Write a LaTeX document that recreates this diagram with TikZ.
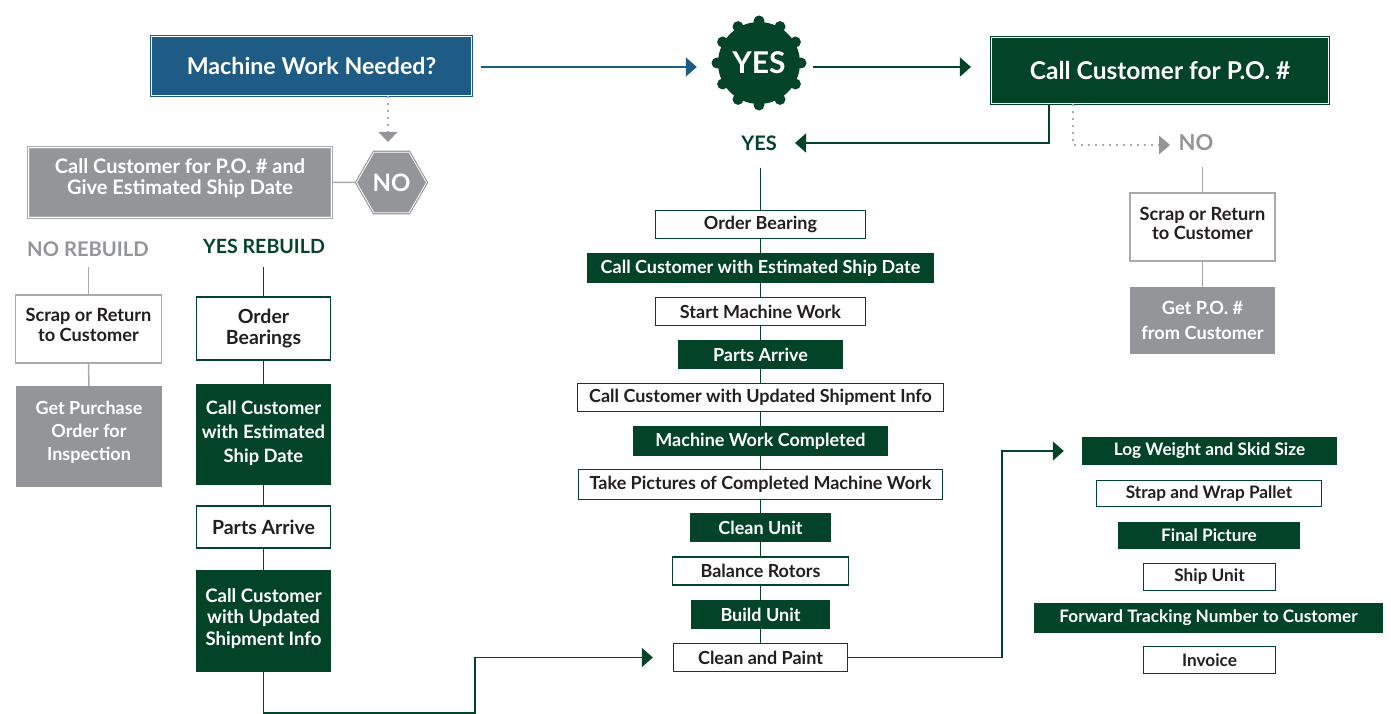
\documentclass[tikz,border=0pt]{standalone}
\usepackage{fontspec}
\setmainfont{Lato}
\usetikzlibrary{shapes.geometric,arrows.meta,calc}
\definecolor{dg}{RGB}{3,68,40}
\definecolor{bl}{RGB}{30,92,133}
\definecolor{gr}{RGB}{147,149,152}
\definecolor{lg}{RGB}{168,170,173}
\definecolor{tx}{RGB}{35,31,32}
\newcommand\fz[2]{\fontsize{#1}{#2}\selectfont\bfseries}
\begin{document}
\begin{tikzpicture}[x=1pt,y=-1pt,
  box/.style={rectangle, inner sep=0pt, align=center},
  wbox/.style={box, draw=dg, line width=1.3, fill=white, text=tx},
  gbox/.style={box, fill=dg, text=white},
  lgbox/.style={box, draw=lg, line width=1.3, fill=white, text=tx},
  greybox/.style={box, fill=gr, text=white},
  dbl/.style={double=white, double distance=0.8pt, line width=1.1pt},
  conn/.style={draw=dg, line width=1.5},
  gconn/.style={draw=lg, line width=1.5},
  dotc/.style={draw=lg, line width=1.8, dash pattern=on 1.8pt off 5.2pt},
  arr/.style={-{Triangle[length=11,width=19]}},
  mid/.style={font=\fz{18}{21}},
  rgt/.style={font=\fz{17.2}{20}}
]
\useasboundingbox (0,0) rectangle (1391,714);

% ---------- top row ----------
\node[box, draw=bl, fill=bl, dbl, text=white, minimum width=320, minimum height=59,
      font=\fz{23.2}{27}] (mwn) at (311.5,66) {Machine Work Needed?};
\node[circle, fill=dg, text=white, minimum size=82, inner sep=0pt, font=\fz{30}{34}] (yes) at (759,63) {YES};
\foreach \a in {0,30,...,330} \fill[dg] ($(yes.center)+(\a:42)$) circle (5.5);
\node[box, draw=dg, fill=dg, dbl, text=white, minimum width=337, minimum height=66,
      font=\fz{24.5}{28}] (cc) at (1160,70.5) {Call Customer for P.O. \#};

\coordinate (mwnout) at ([yshift=-1pt]mwn.east);
\coordinate (ccin) at ([yshift=3.5pt]cc.west);
\draw[draw=bl, line width=1.6, arr, shorten <=9, shorten >=21]
  (mwnout) -- (mwnout -| yes.west);
\draw[conn, arr, shorten <=13, shorten >=20]
  (ccin -| yes.east) -- (ccin);

% YES label under seal
\node[text=dg, font=\fz{20}{23}] (yeslbl) at (759,143) {YES};
\coordinate (yestip) at (795,143);
\draw[conn, arr] ([xshift=-111]cc.south) |- (yestip);

% NO branch right
\node[text=gr, font=\fz{22}{25}] (nolbl) at (1196,143) {NO};
\coordinate (notip) at (1170,145);
\draw[dotc] ([xshift=-87]cc.south) |- (1159,145);
\fill[gr] (1159,135.5) -- (notip) -- (1159,154.5) -- cycle;

\node[lgbox, minimum width=145, minimum height=68, text depth=8pt, font=\fz{18.2}{19}] (rs1) at (1202.5,227) {Scrap or Return\\to Customer};
\node[greybox, minimum width=145, minimum height=67, font=\fz{18.2}{25}] (rs2) at (1202.5,320.5) {Get P.O. \#\\from Customer};
\draw[gconn] (rs1.north) -- ++(0,-25);
\draw[gconn] (rs1.south) -- (rs2.north);

% ---------- NO branch left ----------
\draw[dotc] ([xshift=76.5]mwn.south) -- (388,132);
\fill[gr] (378.5,132) -- (397.5,132) -- (388,142) -- cycle;
\node[regular polygon, regular polygon sides=6, draw=gr, dbl, fill=gr, inner sep=0pt,
      minimum size=70, text=white, font=\fz{24}{27}] (nohex) at (391.5,182.5) {NO};
\node[box, draw=lg, dbl, fill=gr, text=white, minimum width=303, minimum height=70,
      text depth=12pt, font=\fz{20}{21.5}] (po) at (180,182.5) {Call Customer for P.O. \# and\\Give Estimated Ship Date};
\draw[gconn] (nohex.west) -- (po.east);

\node[text=gr, font=\fz{20.2}{23}] (nrb) at (88,249.5) {NO REBUILD};
\node[text=dg, font=\fz{19.6}{23}] (yrb) at (264,246) {YES REBUILD};

\node[lgbox, minimum width=146, minimum height=68, text depth=8pt, font=\fz{18.2}{20.5}] (ls1) at (88.5,329) {Scrap or Return\\to Customer};
\node[greybox, minimum width=146, minimum height=101, text depth=11.5pt, font=\fz{18}{23}] (ls2) at (89,436.5) {Get Purchase\\Order for\\Inspection};
\draw[gconn] (ls1.north) -- ++(0,-27);
\draw[gconn] (ls1.south) -- (ls2.north);

\node[wbox, minimum width=134, minimum height=63, font=\fz{19.5}{21.5}] (lc1) at (263.5,328.5) {Order\\Bearings};
\node[gbox, minimum width=135, minimum height=101, text depth=6pt, font=\fz{18.4}{24}] (lc2) at (263.5,434.5) {Call Customer\\with Estimated\\Ship Date};
\node[wbox, minimum width=134, minimum height=42, font=\fz{19.5}{22}] (lc3) at (263.5,527) {Parts Arrive};
\node[gbox, minimum width=135, minimum height=102, text depth=8.5pt, font=\fz{18.6}{21.5}] (lc4) at (263.5,621) {Call Customer\\with Updated\\Shipment Info};
\draw[conn] (lc1.north) -- ++(0,-29);
\draw[conn] (lc1.south) -- (lc2.north);
\draw[conn] (lc2.south) -- (lc3.north);
\draw[conn] (lc3.south) -- (lc4.north);

% ---------- middle column ----------
\node[wbox, mid, minimum width=210, minimum height=28] (m1) at (760.5,224.5) {Order Bearing};
\node[gbox, mid, minimum width=347, minimum height=30] (m2) at (760.5,268) {Call Customer with Estimated Ship Date};
\node[wbox, mid, minimum width=210, minimum height=28] (m3) at (760.5,311.5) {Start Machine Work};
\node[gbox, mid, minimum width=165, minimum height=29] (m4) at (760.5,354.5) {Parts Arrive};
\node[wbox, mid, minimum width=366, minimum height=28] (m5) at (760.5,397.5) {Call Customer with Updated Shipment Info};
\node[gbox, mid, minimum width=255, minimum height=30] (m6) at (760.5,441) {Machine Work Completed};
\node[wbox, mid, minimum width=364, minimum height=30] (m7) at (760.5,484.5) {Take Pictures of Completed Machine Work};
\node[gbox, mid, minimum width=141, minimum height=29] (m8) at (760.5,527.5) {Clean Unit};
\node[wbox, mid, minimum width=176, minimum height=28] (m9) at (760.5,571) {Balance Rotors};
\node[gbox, mid, minimum width=139, minimum height=29] (m10) at (760.5,614.5) {Build Unit};
\node[wbox, mid, minimum width=174, minimum height=28] (m11) at (760.5,657.5) {Clean and Paint};
\draw[conn] (m1.north) -- ++(0,-42);
\foreach \i [evaluate=\i as \j using int(\i+1)] in {1,...,10}
  \draw[conn] (m\i.south) -- (m\j.north);

\coordinate (c1) at (475,713);
\draw[conn, arr, shorten >=20] (lc4.south) |- (c1) |- (m11.west);

% ---------- right column ----------
\node[gbox, rgt, minimum width=255, minimum height=28] (r1) at (1209.5,451) {Log Weight and Skid Size};
\node[wbox, rgt, minimum width=225, minimum height=26] (r2) at (1209,493.5) {Strap and Wrap Pallet};
\node[gbox, rgt, minimum width=182, minimum height=27] (r3) at (1209,535.5) {Final Picture};
\node[wbox, rgt, minimum width=132, minimum height=27] (r4) at (1209.5,577) {Ship Unit};
\node[gbox, rgt, minimum width=349, minimum height=30] (r5) at (1208.5,618) {Forward Tracking Number to Customer};
\node[wbox, rgt, minimum width=132, minimum height=27] (r6) at (1209.5,660) {Invoice};

\coordinate (c2) at (1002,550);
\draw[conn, arr, shorten >=18] (m11.east) -| (c2) |- (r1.west);
\end{tikzpicture}
\end{document}
